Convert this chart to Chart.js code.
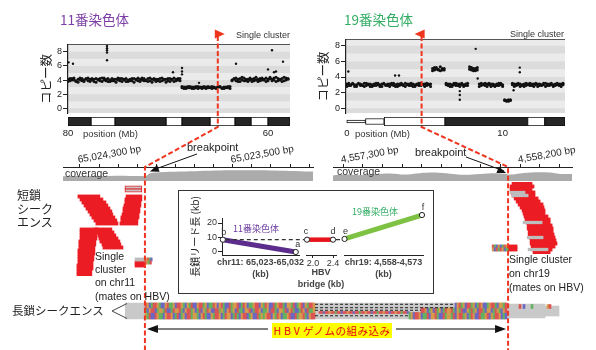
<!DOCTYPE html>
<html><head><meta charset="utf-8">
<script src="https://cdn.jsdelivr.net/npm/chart.js@4.4.1/dist/chart.umd.min.js"></script>
<style>
html,body{margin:0;padding:0;background:#fff;}
#wrap{position:relative;width:596px;height:350px;overflow:hidden;background:#fff;}
#wrap canvas{position:absolute;}
.t{position:absolute;white-space:nowrap;line-height:1;font-family:"Liberation Sans",Arial,sans-serif;color:#222;}
.j{font-family:"Noto Sans CJK JP",sans-serif;}
</style></head><body><div id="wrap"></div>
<script>
// ================= DATA =================
// copy number, chr11 (bins of 0.2 Mb starting at 80 Mb, going down)
const chr11BinStartMb = 80, chr11BinStepMb = -0.2;
const chr11CopyA = [4.1,3.9,4.2,4.0,3.8,4.1,4.3,3.9,4.0,4.2,3.9,4.1,4.0,3.8,4.2,4.1,3.9,4.3,4.0,4.1,3.8,4.0,4.2,3.9,4.1,4.0,3.9,4.2,4.1,3.8,4.0,4.1,3.9,4.2,4.0,3.9,4.1,4.3,3.9,4.0,4.2,3.9,4.1,4.0,3.8,4.1,4.2,3.9,4.0,4.1,3.9,4.2,4.0,3.8,4.1,4.0,4.2,
  2.9,3.0,2.8,3.1,2.9,3.0,2.8,2.9,3.1,3.0,2.8,2.9,3.0,3.1,2.9,2.8,3.0,2.9,3.1,3.0,2.9,2.8,3.0,2.9,3.1,
  4.0,4.2,3.9,4.1,3.8,4.0,4.3,3.9,4.1,4.0,3.8,4.2,4.0,4.1,3.9,4.3,4.0,3.8,4.1,4.2,3.9,4.0,4.4,3.9,4.1,4.2,3.9,4.3,4.1];
const chr11CopyB = [3.8,4.2,4.0,4.3,3.9,3.7,4.0,4.2,3.8,4.1,4.3,3.8,4.2,4.1,3.7,4.0,4.2,3.8,4.3,3.9,4.2,3.8,3.9,4.1,3.7,4.3,4.2,3.8,4.0,4.2,3.8,3.9,4.2,3.7,4.1,4.3,3.8,4.0,4.2,3.9,3.8,4.3,3.7,4.2,4.1,3.9,3.8,4.3,4.1,3.7,4.2,3.8,4.1,4.3,3.9,4.2,3.9,
  3.1,2.8,3.0,2.9,3.1,2.8,3.0,3.1,2.8,2.9,3.0,3.1,2.8,2.9,3.0,3.1,2.9,2.8,3.0,3.1,2.8,3.0,2.9,3.1,2.8,
  3.9,4.1,4.3,3.8,4.2,4.4,3.9,4.1,3.8,4.3,4.1,3.9,4.4,3.8,4.2,4.0,4.1,4.3,3.9,4.4,4.1,4.3,3.8,4.2,4.0,3.8,4.4,4.0,4.2];
const chr11OutlierMb   = [79.95,79.5,76.1,76.1,76.1,76.1,76.1,68.6,68.6,68.6,69.5,66.9,63.2,60.0,59.6,59.4,59.2,58.5];
const chr11OutlierCopy = [6.5,6.3,8.8,8.5,8.2,7.9,6.8,5.7,5.2,4.8,5.1,3.6,6.3,5.5,8.2,5.1,5.2,6.6];
// copy number, chr19 (bins of 0.125 Mb from 0)
const chr19BinStartMb = 0, chr19BinStepMb = 0.125;
const chr19CopyA = [3.1,2.9,3.0,3.2,2.8,3.0,3.1,2.9,3.0,3.2,2.9,3.1,2.8,3.0,3.1,2.9,3.2,3.0,2.8,3.1,3.0,2.9,3.1,3.2,2.9,3.0,2.8,3.1,3.0,2.9,3.2,3.0,3.1,2.9,2.8,3.0,3.1,3.2,2.9,3.0,3.1,2.9,3.0,3.1,
  5.1,4.9,5.2,5.0,4.8,5.1,4.9,
  3.0,2.9,3.1,2.8,3.0,3.2,2.9,3.1,3.0,2.8,3.1,2.9,
  5.0,5.2,4.8,5.1,4.9,
  3.1,2.9,3.0,3.2,2.8,3.0,3.1,2.9,3.0,3.1,2.9,3.2,3.0,
  1.0,0.9,1.1,1.0,
  3.0,3.1,2.9,3.2,2.8,3.0,3.1,2.9,3.0,3.2,2.9,3.1,3.0,2.8,3.1,2.9,3.0,3.2,3.1,2.9,3.0,2.8,3.1,3.0,2.9,3.1,3.0];
const chr19CopyB = [2.8,3.2,2.9,3.1,3.0,2.8,3.2,3.1,2.9,2.8,3.2,3.0,3.1,2.8,2.9,3.2,3.0,2.8,3.1,3.2,2.9,3.1,2.8,3.0,3.2,2.8,3.1,2.9,3.2,3.0,2.8,3.1,2.9,3.2,3.1,2.8,3.0,2.9,3.2,3.1,2.8,3.2,3.1,2.8,
  4.8,5.2,5.0,4.9,5.3,4.9,5.1,
  3.2,3.1,2.8,3.0,3.2,2.9,3.1,2.8,3.2,3.0,2.9,3.2,
  5.3,4.9,5.1,4.8,5.2,
  2.8,3.2,3.1,2.9,3.1,3.2,2.8,3.1,2.8,2.9,3.2,3.0,2.8,
  1.1,1.0,0.9,1.1,
  3.2,2.8,3.1,3.0,3.1,2.9,2.8,3.2,3.1,2.9,3.1,2.8,3.2,3.1,2.9,3.0,3.2,2.8,2.9,3.1,3.2,3.0,2.9,3.2,3.1,2.8,3.2];
const chr19OutlierMb   = [0.1,3.1,3.35,7.25,7.25,7.25,8.27,8.4,11.1,11.1,10.7];
const chr19OutlierCopy = [4.7,4.2,4.2,2.2,1.7,1.1,7.6,3.8,5.2,4.6,2.3];
const copyTicks = [0,2,4,6,8];
const chr11MarkerMb = 65.02, chr19MarkerMb = 4.8;
// ideogram bands (Mb)
const chr11BandStart = [80,77.7,75.3,70.2,68.6,65.8,63.3,61.7,60.0];
const chr11BandEnd   = [77.7,75.3,70.2,68.6,65.8,63.3,61.7,60.0,57.8];
const chr11BandStain = ['gpos','gneg','gpos','gneg','gpos','gneg','gpos','gneg','gpos'];
const chr11AxisTicks = [80,60];
const chr19BandStart = [0,1.2,2.4,6.3,11.6,12.7];
const chr19BandEnd   = [1.2,2.4,6.3,11.6,12.7,14];
const chr19BandStain = ['pter1','pter2','gneg','gpos','gneg','gpos'];
const chr19AxisTicks = [0,10];
// junction tracks (bp)
const chr11TrackTicks = [65024300,65024200,65024100,65024000,65023900,65023800,65023700,65023600,65023500,65023400,65023300,65023200,65023100];
const chr11TrackLabels = [65024300,65023500];
const chr11BreakBp = 65023960;
const chr11CovBp    = [65024389,65024300,65024195,65024091,65023986,65023954,65023933,65023881,65023776,65023672,65023567,65023462,65023358,65023253,65023148,65023080];
const chr11CovDepth = [3.4,3.6,3.5,3.7,3.5,3.6,5.5,6.3,6.8,7.2,7.5,7.6,7.6,7.3,7.0,6.8];
const chr19TrackTicks = [4557300,4557400,4557500,4557600,4557700,4557800,4557900,4558000,4558100,4558200,4558300,4558400];
const chr19TrackLabels = [4557300,4558200];
const chr19BreakBp = 4558139;
const chr19CovBp    = [4557249,4557310,4557386,4557463,4557539,4557615,4557691,4557768,4557844,4557920,4557997,4558073,4558124,4558149,4558200,4558276,4558352,4558403,4558464];
const chr19CovDepth = [4.0,4.6,4.2,5.0,5.4,4.6,5.6,6.0,5.2,4.4,5.0,5.6,5.2,4.6,5.4,6.2,6.0,5.0,5.0];
// short reads: [row, from, to] in bp from the breakpoint
const chr11PairedOnHbv = [[1,105,16],[2,105,16]];
const chr11ClusterUL = [[4,351,236],[5,340,220],[6,330,204],[7,319,194],[8,309,183],[9,298,173],[10,288,168],[11,278,157],[12,267,147],[13,257,141]];
const chr11ClusterUR = [[4,99,16],[5,105,16],[6,105,21],[7,110,21],[8,115,26],[9,115,26],[10,120,31],[11,126,31],[12,126,37],[13,131,37]];
const chr11ClusterLL = [[15,340,246],[16,340,246],[17,340,251],[18,340,251],[19,346,257],[20,346,257],[21,346,262],[22,351,262],[23,351,262],[24,351,267],[25,351,267],[26,351,272],[27,356,272],[28,356,272],[29,356,278],[30,356,278]];
const chr11ClusterLM = [[15,262,173],[16,257,162],[17,246,152],[18,241,141],[19,236,131],[20,225,126],[21,220,115]];
const chr11SplitGray = [[25,52,-5]];
const chr11SplitRed = [[26,52,0],[27,52,0]];
const chr11SplitBases = [[25,-5,-14,'G'],[25,-14,-22,'T'],[25,-22,-30,'A'],[25,-30,-38,'C'],[26,0,-9,'T'],[26,-9,-17,'G'],[26,-17,-26,'A'],[26,-26,-34,'T']];
const chr19Cluster = [[0,20,122],[1,10,132],[2,10,122],[3,15,137],[4,20,137],[5,31,153],[6,41,163],[7,51,178],[8,61,183],[9,71,188],[10,76,188],[11,81,203],[12,86,214],[13,92,214],[14,97,224],[15,97,229],[16,102,229],[17,102,234],[18,107,239],[19,112,244],[20,112,249],[21,117,239],[22,122,224],[23,127,214]];
const chr19MatesOnHbv = [[3,10,86],[4,20,102],[13,76,173],[18,97,178],[22,102,203]];
const chr19SplitRed = [[21,0,46],[22,0,46]];
const chr19SplitBases = [[21,-81,-71,'T'],[21,-71,-61,'A'],[21,-61,-51,'C'],[21,-51,-41,'G'],[21,-41,-31,'C'],[21,-31,-21,'A'],[21,-21,-11,'T'],[21,-11,0,'G'],[22,-81,-71,'G'],[22,-71,-61,'C'],[22,-61,-51,'T'],[22,-51,-41,'A'],[22,-41,-31,'T'],[22,-31,-21,'G'],[22,-21,-11,'C'],[22,-11,0,'A']];
// long read (positions along the read, 1 unit = one drawn base block)
const longReadBody = [[0,191],[191,210],[210,217]];
const longReadRow1 = [[10,'TGCATTGACCGTAAGCTTGACGATCCGTTAGCAATGCGTACCTAGGTCATGCAAGTTCGATGCCTAGTTACGGATCAGTCGATTG'],[165,'CGTAGCTTAGCATGCCAGTTACGGAT']];
const longReadRow2 = [[10,'ACGTTCAGGATCCATGGTACGTTAGCATCGATGCCTTAGACGTAGCTAACGGTCATTGCAAGCTTACGGATCGTACCATGCTAAG'],[148,'TTGCAGCTAGCATGGTACGATCCGATAGCTTACGGCATGACGT']];
const longReadRow3 = [[10,'GATCCTGAACGTTGCATCAGCTTAGGACGTACCGATTGCATGGCATACGTTCAGCCTAGAGTTCGATGCAAGTCCTAGGTACGTT'],[142,'AGCTTGCAATCGGTACCTAGGATCGTTAGCATGCCTAAGTCGATTGCAC']];
const longReadThin = [[97,'TTCTTGTTATTCTTGTTCTTATTGTTCTTATTGTTCTTGTTATTC']];
const longReadSparse = [[197,'T'],[199,'C'],[203,'A'],[211,'G'],[212,'T']];
const longReadDeletions = [[95,165,'r1top'],[95,165,'r1bot'],[95,148,'r2'],[95,142,'r3']];
// long-read length along the junction (kb)
const chr11PosKb = [65032,65023], chr11LenKb = [8.5,0];
const hbvPosKb = [1.88,2.4], hbvLenKb = [8.5,8.5];
const chr19PosKb = [4558,4573], chr19LenKb = [9,25.5];
const insetLenTicks = [0,10,20];
const hbvTicks = [2,2.4];

// ================= SETUP =================
Chart.defaults.font.family = '"Liberation Sans", Arial, sans-serif';
Chart.defaults.color = '#222';
const wrap = document.getElementById('wrap');
const READRED = '#ec1c24';
const baseColor = {A:'#62b25f', C:'#6a68c4', G:'#d79a4c', T:'#dc5454'};
const stainStyle = {gpos:{c:'#262626',t:9}, gneg:{c:'#ffffff',t:9}, pter1:{c:'#ffffff',t:3}, pter2:{c:'#ffffff',t:6}};
function cv(l,t,w,h){const c=document.createElement('canvas');c.width=w;c.height=h;c.style.left=l+'px';c.style.top=t+'px';c.style.width=w+'px';c.style.height=h+'px';wrap.appendChild(c);return c;}
const common = {responsive:false, animation:false, events:[], devicePixelRatio:1};
const plug = {legend:{display:false}, tooltip:{enabled:false}};
const binsToPoints = (s,st,v)=>v.map((y,i)=>({x:s+i*st,y}));
const pairs = (xs,ys)=>xs.map((x,i)=>({x,y:ys[i]}));

const stripes = {id:'stripes', beforeDraw(ch){
  const {ctx, chartArea:a, scales:{y}} = ch;
  ctx.save(); ctx.beginPath(); ctx.rect(a.left,a.top,a.width,a.height); ctx.clip();
  ctx.fillStyle='#dcdcdc'; ctx.fillRect(a.left,a.top,a.width,a.height);
  ctx.fillStyle='#ebebeb';
  for(let v=-2; v<10; v+=2){const p1=y.getPixelForValue(v+1),p0=y.getPixelForValue(v);ctx.fillRect(a.left,p1,a.width,p0-p1);}
  ctx.restore();
  ctx.save(); ctx.strokeStyle='#555'; ctx.lineWidth=1; ctx.beginPath(); ctx.moveTo(a.left,Math.round(a.top)-0.5); ctx.lineTo(a.right,Math.round(a.top)-0.5); ctx.stroke(); ctx.restore();
}};

function copyChart(el, pts, outl, xMin, xMax, rev, yMin, yMax, axisW, padTop, padRight, titlePad){
  return new Chart(el, {type:'scatter',
    data:{datasets:[
      {data:pts[0], pointRadius:1.5, backgroundColor:'#111', borderWidth:0},
      {data:pts[1], pointRadius:1.5, backgroundColor:'#111', borderWidth:0},
      {data:outl, pointRadius:1.2, backgroundColor:'#111', borderWidth:0}]},
    options:{...common, plugins:plug, layout:{padding:{top:padTop,right:padRight,bottom:7,left:0}},
      scales:{
        x:{type:'linear', min:xMin, max:xMax, reverse:rev, display:false},
        y:{type:'linear', min:yMin, max:yMax, afterFit(s){s.width=axisW;}, afterBuildTicks(s){s.ticks=copyTicks.map(v=>({value:v}));},
           ticks:{font:{size:9}, color:'#222', padding:1},
           grid:{drawOnChartArea:false, tickLength:5, color:'#222', lineWidth:1},
           border:{display:true, color:'#222', width:1.2},
           title:{display:true, text:'コピー数', color:'#222', font:{family:'"Noto Sans CJK JP"', size:12.5}, padding:{top:titlePad,bottom:0}}}
      }},
    plugins:[stripes]});
}
function ideoChart(el, starts, ends, stains, ticks, xMin, xMax, rev, padL, padR){
  return new Chart(el, {type:'bar',
    data:{datasets: starts.map((s,i)=>({data:[{x:[s,ends[i]], y:0}], backgroundColor:stainStyle[stains[i]].c, borderColor:'#111', borderWidth:1, borderSkipped:false, barThickness:stainStyle[stains[i]].t, grouped:false}))},
    options:{...common, plugins:plug, indexAxis:'y', layout:{padding:{left:padL,right:padR,top:4,bottom:0}},
      scales:{
        x:{type:'linear', min:xMin, max:xMax, reverse:rev, afterFit(s){s.height=19;}, afterBuildTicks(s){s.ticks=ticks.map(v=>({value:v}));},
           ticks:{font:{size:9.5}, color:'#222', padding:2, maxRotation:0, autoSkip:false}, grid:{display:false, drawTicks:false}, border:{display:false}},
        y:{type:'linear', min:-0.5, max:0.5, offset:false, display:false}}}});
}
function trackChart(el, bp, depth, xMin, xMax, rev, ticks, labels, padL, padR){
  return new Chart(el, {type:'line',
    data:{datasets:[{data:pairs(bp,depth), fill:'origin', backgroundColor:'#ababab', borderWidth:0, borderColor:'rgba(0,0,0,0)', pointRadius:0, tension:0.35}]},
    options:{...common, plugins:plug, layout:{padding:{left:padL,right:padR,top:0,bottom:4}},
      scales:{
        x:{type:'linear', position:'top', min:xMin, max:xMax, reverse:rev, afterFit(s){s.height=32;}, afterBuildTicks(s){s.ticks=ticks.map(v=>({value:v}));},
           ticks:{autoSkip:false, minRotation:10, maxRotation:10, padding:-2, font:{size:10}, color:'#222', callback:(v)=>labels.includes(v)?v.toLocaleString('en-US')+' bp':''},
           grid:{drawOnChartArea:false, tickLength:3, color:'#222'}, border:{display:true, color:'#222', width:1}},
        y:{type:'linear', min:0, max:10, display:false}}}});
}
function readSet(list, color, extra){
  return Object.assign({data:list.map(r=>({x:[r[1],r[2]], y:r[0]})), backgroundColor:color, borderWidth:0, barThickness:3.2, grouped:false, borderSkipped:false}, extra||{});
}
function baseSet(list){
  return {data:list.map(r=>({x:[r[1],r[2]], y:r[0]})), backgroundColor:list.map(r=>baseColor[r[3]]), borderWidth:0, barThickness:3.2, grouped:false, borderSkipped:false, order:0};
}
function readsChart(el, sets, xMin, xMax, rev, rows, padL, padR){
  return new Chart(el, {type:'bar', data:{datasets:sets},
    options:{...common, plugins:plug, indexAxis:'y', layout:{padding:{left:padL,right:padR,top:0,bottom:0}},
      scales:{x:{type:'linear', min:xMin, max:xMax, reverse:rev, display:false},
              y:{type:'linear', min:-0.5, max:rows-0.5, reverse:true, offset:false, display:false}}}});
}

// ================= CHARTS =================
const chA = copyChart(cv(0,0,300,120), [binsToPoints(chr11BinStartMb,chr11BinStepMb,chr11CopyA), binsToPoints(chr11BinStartMb,chr11BinStepMb,chr11CopyB)], pairs(chr11OutlierMb,chr11OutlierCopy), 57.8, 80, true, -0.66, 8.95, 68, 45, 10, 39);
const chB = copyChart(cv(296,0,300,120), [binsToPoints(chr19BinStartMb,chr19BinStepMb,chr19CopyA), binsToPoints(chr19BinStartMb,chr19BinStepMb,chr19CopyB)], pairs(chr19OutlierMb,chr19OutlierCopy), -0.05, 14, false, -0.6, 8.73, 50, 40, 31, 20);
const chAi = ideoChart(cv(0,113,300,32), chr11BandStart, chr11BandEnd, chr11BandStain, chr11AxisTicks, 57.8, 80, true, 68, 10);
const chBi = ideoChart(cv(296,113,300,32), chr19BandStart, chr19BandEnd, chr19BandStain, chr19AxisTicks, -0.05, 14, false, 50, 31);
const chTL = trackChart(cv(40,135,290,50), chr11CovBp, chr11CovDepth, 65023080, 65024389, true, chr11TrackTicks, chr11TrackLabels, 23, 17);
const chTR = trackChart(cv(320,135,270,50), chr19CovBp, chr19CovDepth, 4557249, 4558464, false, chr19TrackTicks, chr19TrackLabels, 13, 18);

const chRL = readsChart(cv(40,183,290,93), [
  readSet(chr11PairedOnHbv, '#c4c4c4', {borderColor:READRED, borderWidth:1, order:1}),
  readSet(chr11ClusterUL, READRED, {order:5}), readSet(chr11ClusterUR, READRED, {order:5}),
  readSet(chr11ClusterLL, READRED, {order:5}), readSet(chr11ClusterLM, READRED, {order:5}),
  readSet(chr11SplitGray, '#bdbdbd', {order:2}), readSet(chr11SplitRed, READRED, {order:2}),
  baseSet(chr11SplitBases)], -880, 429, true, 31, 23, 17);
const chRR = readsChart(cv(330,182,250,72), [
  readSet(chr19Cluster, READRED, {order:5}), readSet(chr19MatesOnHbv, '#bdbdbd', {order:1, barThickness:2.6}),
  readSet(chr19SplitRed, READRED, {order:2}), baseSet(chr19SplitBases)], -890, 325, false, 24, 3, 8);

// long read
const laneY = {r1:3.5, r2:8.25, r3:13.75, thin:10.5, sparse:4.5, r1top:2.3, r1bot:5.7};
const laneT = {r1:5, r2:4.5, r3:6.5, thin:2, sparse:4};
function seqSet(segs, lane){
  const d=[], c=[];
  segs.forEach(([st,seq])=>{for(let k=0;k<seq.length;k++){d.push({x:[st+k,st+k+1], y:laneY[lane]}); c.push(baseColor[seq[k]]);}});
  return {data:d, backgroundColor:c, borderWidth:0, barThickness:laneT[lane], grouped:false, borderSkipped:false, order:5};
}
const bodyThick = [16,14,10];
const lrSets = [
  ...longReadBody.map((b,i)=>({data:[{x:[b[0],b[1]], y:9}], backgroundColor:'#c9c9c9', borderWidth:0, barThickness:bodyThick[i], grouped:false, borderSkipped:false, order:10})),
  seqSet(longReadRow1,'r1'), seqSet(longReadRow2,'r2'), seqSet(longReadRow3,'r3'), seqSet(longReadThin,'thin'), seqSet(longReadSparse,'sparse'),
  ...longReadDeletions.map(d=>({type:'line', data:[{x:d[0],y:laneY[d[2]]},{x:d[1],y:laneY[d[2]]}], borderColor:'#222', borderWidth:1, borderDash:[3,2], pointRadius:0, order:0}))
];
const chLR = new Chart(cv(125,302,440,18), {type:'bar', data:{datasets:lrSets},
  options:{...common, plugins:plug, indexAxis:'y', layout:{padding:0},
    scales:{x:{type:'linear', min:0, max:220, display:false}, y:{type:'linear', min:0, max:18, reverse:true, offset:false, display:false}}}});

// inset box
const box = document.createElement('div');
box.style.cssText='position:absolute;left:178px;top:190px;width:256px;height:104px;border:1px solid #333;background:#fff;box-sizing:border-box;';
wrap.appendChild(box);
const ptLabels = {id:'ptLabels', afterDatasetsDraw(ch, args, o){
  const {ctx} = ch; const pts = ch.getDatasetMeta(0).data;
  ctx.save(); ctx.font='9px "Liberation Sans", Arial, sans-serif'; ctx.fillStyle='#333'; ctx.textAlign='center'; ctx.textBaseline='middle';
  (o.items||[]).forEach(([txt,i,dx,dy])=>{ctx.fillText(txt, pts[i].x+dx, pts[i].y+dy);});
  ctx.restore();
}};
function lenLine(color, w, xs, ys){
  return {data:pairs(xs,ys), borderColor:color, borderWidth:w, pointRadius:2.6, pointBackgroundColor:'#fff', pointBorderColor:'#222', pointBorderWidth:1, clip:false};
}
const chI11 = new Chart(cv(178,190,126,103), {type:'line', data:{datasets:[lenLine('#5c2d8c',5,chr11PosKb,chr11LenKb)]},
  options:{...common, plugins:{...plug, ptLabels:{items:[['b',0,1,-7],['a',1,2,-7]]}}, layout:{padding:{left:0,right:4,top:28,bottom:0}},
    scales:{
      x:{type:'linear', min:65022.6, max:65032.1, reverse:true, afterFit(s){s.height=38;}, ticks:{display:false}, grid:{display:false, drawTicks:false}, border:{display:true, color:'#222', width:1}},
      y:{type:'linear', min:-2.07, max:23.45, afterFit(s){s.width=44;}, afterBuildTicks(s){s.ticks=insetLenTicks.map(v=>({value:v}));},
         ticks:{font:{size:9}, color:'#333', padding:1}, grid:{drawOnChartArea:false, tickLength:4, color:'#222'}, border:{display:true, color:'#222', width:1},
         title:{display:true, text:'長鎖リード長 (kb)', color:'#222', font:{family:'"Noto Sans CJK JP"', size:10}, padding:{top:11,bottom:0}}}}},
  plugins:[ptLabels]});
const chIH = new Chart(cv(290,190,70,103), {type:'line', data:{datasets:[lenLine('#e8141c',4.5,hbvPosKb,hbvLenKb)]},
  options:{...common, plugins:{...plug, ptLabels:{items:[['c',0,-1,-8],['d',1,0,-8]]}}, layout:{padding:{left:16,right:24,top:28,bottom:0}},
    scales:{
      x:{type:'linear', min:1.86, max:2.46, afterFit(s){s.height=38;}, afterBuildTicks(s){s.ticks=hbvTicks.map(v=>({value:v}));},
         ticks:{font:{size:9}, color:'#333', padding:0, autoSkip:false, maxRotation:0}, grid:{drawOnChartArea:false, tickLength:3, color:'#222'}, border:{display:true, color:'#222', width:1}},
      y:{type:'linear', min:-2.07, max:23.45, display:false}}},
  plugins:[ptLabels]});
const chI19 = new Chart(cv(336,190,92,103), {type:'line', data:{datasets:[lenLine('#7dc242',5,chr19PosKb,chr19LenKb)]},
  options:{...common, plugins:{...plug, ptLabels:{items:[['e',0,1,-7],['f',1,1,-8]]}}, layout:{padding:{left:8,right:5,top:10,bottom:0}},
    scales:{
      x:{type:'linear', min:4557.9, max:4573.2, afterFit(s){s.height=38;}, ticks:{display:false}, grid:{display:false, drawTicks:false}, border:{display:true, color:'#222', width:1}},
      y:{type:'linear', min:-2.07, max:35.86, display:false}}},
  plugins:[ptLabels]});

// ================= OVERLAY =================
const ov = cv(0,0,596,350).getContext('2d');
function arrowHead(ctx, x, y, ang, len, wid){
  ctx.save(); ctx.translate(x,y); ctx.rotate(ang); ctx.beginPath(); ctx.moveTo(0,0); ctx.lineTo(-len,-wid/2); ctx.lineTo(-len,wid/2); ctx.closePath(); ctx.fill(); ctx.restore();
}
function junction(xTop, yIdeo, xTrack, yTrack, flagDir){
  ov.save(); ov.strokeStyle='#f0351f'; ov.fillStyle='#f0351f'; ov.lineWidth=2; ov.setLineDash([5,2.5]);
  ov.beginPath(); ov.moveTo(xTop,36); ov.lineTo(xTop,yIdeo); ov.lineTo(xTrack,yTrack); ov.lineTo(xTrack,350); ov.stroke();
  ov.setLineDash([]); ov.beginPath();
  ov.moveTo(xTop-3*flagDir,29.5); ov.lineTo(xTop+7*flagDir,34); ov.lineTo(xTop-3*flagDir,38.5); ov.closePath(); ov.fill();
  ov.restore();
}
const xA = chA.scales.x.getPixelForValue(chr11MarkerMb);
const xB = 296 + chB.scales.x.getPixelForValue(chr19MarkerMb);
const yIdeo = 113 + chAi.chartArea.bottom + 1;
const xTL = 40 + chTL.scales.x.getPixelForValue(chr11BreakBp);
const xTR = 320 + chTR.scales.x.getPixelForValue(chr19BreakBp);
const yTrack = 135 + chTL.chartArea.top;
junction(xA, yIdeo, xTL, yTrack, 1);
junction(xB, yIdeo, xTR, yTrack, -1);
// breakpoint arrows
ov.save(); ov.strokeStyle='#111'; ov.fillStyle='#111'; ov.lineWidth=1;
ov.beginPath(); ov.moveTo(197,154); ov.lineTo(xTL+8,170); ov.stroke();
arrowHead(ov, xTL+5, 171.5, Math.atan2(171.5-154, xTL+5-197), 9, 7);
ov.beginPath(); ov.moveTo(466,157); ov.lineTo(xTR-4,171); ov.stroke();
arrowHead(ov, xTR-2, 173, Math.atan2(173-157, xTR-2-466), 9, 7);
// long read "<"
ov.strokeStyle='#444'; ov.beginPath(); ov.moveTo(127,303.5); ov.lineTo(112,311); ov.lineTo(127,318.5); ov.stroke();
// integration double arrow
ov.strokeStyle='#555'; ov.lineWidth=1.6; ov.beginPath(); ov.moveTo(xTL+10,329); ov.lineTo(268,329); ov.moveTo(396,329); ov.lineTo(xTR-10,329); ov.stroke();
arrowHead(ov, xTL+2, 329, Math.PI, 11, 8); arrowHead(ov, xTR-2, 329, 0, 11, 8);
ov.restore();
// inset dashed connector
const yDash = 190 + chI11.scales.y.getPixelForValue(hbvLenKb[0]);
const xb = 178 + chI11.scales.x.getPixelForValue(chr11PosKb[0]);
const xc = 290 + chIH.scales.x.getPixelForValue(hbvPosKb[0]);
const xd = 290 + chIH.scales.x.getPixelForValue(hbvPosKb[1]);
const xe = 336 + chI19.scales.x.getPixelForValue(chr19PosKb[0]);
ov.save(); ov.strokeStyle='#333'; ov.lineWidth=1.2; ov.setLineDash([4,3]);
ov.beginPath(); ov.moveTo(xb+3,yDash); ov.lineTo(xc-3,yDash); ov.moveTo(xd+3,yDash); ov.lineTo(xe-3,yDash); ov.stroke(); ov.restore();

// ================= TEXT =================
function tx(str, x, yc, size, o={}){
  const d=document.createElement('div'); d.className='t'+(o.cjk?' j':''); d.textContent=str;
  d.style.fontSize=size+'px'; d.style.top=(yc-size/2)+'px';
  if(o.align==='right'){d.style.right=(596-x)+'px';} else if(o.align==='center'){d.style.left=x+'px';d.style.transform='translateX(-50%)';} else d.style.left=x+'px';
  if(o.color) d.style.color=o.color; if(o.weight) d.style.fontWeight=o.weight;
  wrap.appendChild(d); return d;
}
tx('11番染色体', 60, 20, 13.5, {cjk:true, color:'#7d3fa6'});
tx('19番染色体', 344, 20, 13.5, {cjk:true, color:'#33ad64'});
tx('Single cluster', 290, 35, 9, {align:'right', color:'#333'});
tx('Single cluster', 564, 34, 9, {align:'right', color:'#333'});
tx('position (Mb)', 83, 134, 9.5, {color:'#333'});
tx('position (Mb)', 355, 134, 9.5, {color:'#333'});
tx('breakpoint', 187, 147, 11);
tx('breakpoint', 415, 152, 11);
tx('coverage', 65, 173, 10.5, {color:'#333'});
tx('coverage', 337, 171, 10.5, {color:'#333'});
tx('短鎖', 17, 195, 12, {cjk:true});
tx('シーク', 17, 208.5, 12, {cjk:true});
tx('エンス', 17, 222, 12, {cjk:true});
['Single','cluster','on chr11','(mates on HBV)'].forEach((s,i)=>tx(s, 95, 256+i*13.3, 10.5));
['Single cluster','on chr19','(mates on HBV)'].forEach((s,i)=>tx(s, 509, 259.5+i*13.8, 10.5));
tx('長鎖シークエンス', 12, 311, 11.5, {cjk:true});
tx('11番染色体', 233, 228, 9, {cjk:true, color:'#6b3a9c'});
tx('19番染色体', 352, 211, 9, {cjk:true, color:'#33ad64'});
const cx11 = 178 + (chI11.chartArea.left+chI11.chartArea.right)/2;
const cxH = 290 + (chIH.chartArea.left+chIH.chartArea.right)/2;
const cx19 = 336 + (chI19.chartArea.left+chI19.chartArea.right)/2;
tx('chr11: 65,023-65,032', cx11, 262, 9, {align:'center', color:'#444', weight:'bold'});
tx('(kb)', cx11, 274, 9, {align:'center', color:'#444', weight:'bold'});
tx('HBV', cxH, 272, 9, {align:'center', color:'#444', weight:'bold'});
tx('bridge (kb)', cxH, 284, 9, {align:'center', color:'#444', weight:'bold'});
tx('chr19: 4,558-4,573', cx19, 262, 9, {align:'center', color:'#444', weight:'bold'});
tx('(kb)', cx19, 274, 9, {align:'center', color:'#444', weight:'bold'});
const hb = document.createElement('div'); hb.className='t j';
hb.style.cssText += 'left:272px;top:323px;width:120px;height:15px;background:#ffff00;color:#e60012;font-size:10.5px;line-height:15px;text-align:center;letter-spacing:0.5px;';
hb.innerHTML = '<span style="letter-spacing:3px">HBV</span>ゲノムの組み込み';
wrap.appendChild(hb);
</script></body></html>
